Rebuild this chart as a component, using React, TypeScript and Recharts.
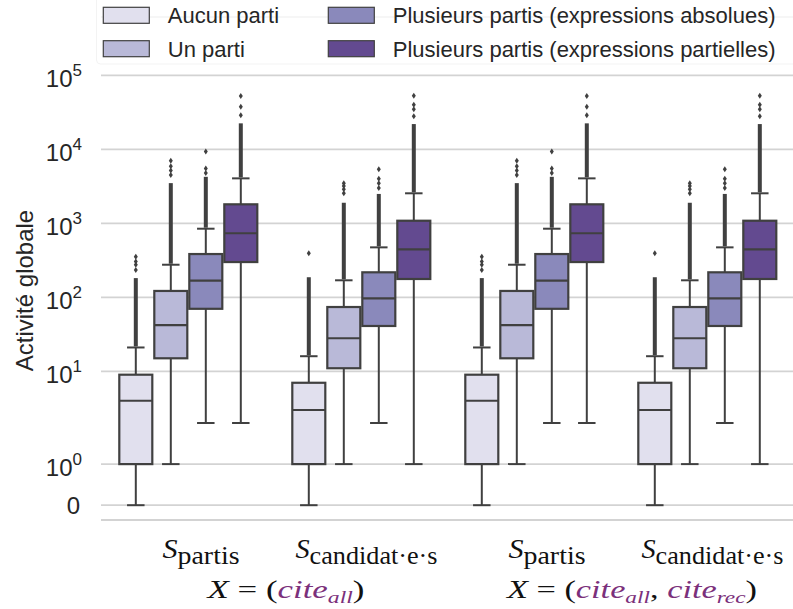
import React from 'react';
import { BarChart, Bar, XAxis, YAxis, CartesianGrid } from 'recharts';

const groups = ['partis_all', 'candidats_all', 'partis_allrec', 'candidats_allrec'];
const seriesNames = [
  'Aucun parti',
  'Un parti',
  'Plusieurs partis (expressions absolues)',
  'Plusieurs partis (expressions partielles)',
];
const seriesColors = ['#e1e0ee', '#b9b9d8', '#8a89bb', '#634a90'];

// box statistics, indexed [series][group]
const whiskerLow = [
  [0, 0, 0, 0],
  [1, 1, 1, 1],
  [2, 2, 2, 2],
  [2, 1, 2, 1],
];
const q1 = [
  [1, 1, 1, 1],
  [15, 11, 15, 11],
  [70, 41, 70, 41],
  [300, 177, 300, 177],
];
const median = [
  [4, 3, 4, 3],
  [42, 28, 42, 28],
  [168, 97, 168, 97],
  [735, 446, 735, 446],
];
const q3 = [
  [9, 7, 9, 7],
  [122, 74, 122, 74],
  [385, 218, 385, 218],
  [1810, 1086, 1810, 1086],
];
const whiskerHigh = [
  [21, 16, 21, 16],
  [276, 170, 276, 170],
  [847, 474, 847, 474],
  [4060, 2550, 4060, 2550],
];
// outliers: a dense run from the whisker up to this value, then single points
const denseFliersTop = [
  [182, 187, 182, 187],
  [3500, 1900, 3500, 1900],
  [4260, 2500, 4260, 2500],
  [22500, 22000, 22500, 22000],
];
const sparseFliers = [
  [[235, 275, 305, 355], [394], [235, 275, 305, 355], [394]],
  [[4500, 5200, 5900, 7000], [2550, 2900, 3200, 3500], [4500, 5200, 5900, 7000], [2550, 2900, 3200, 3500]],
  [[4800, 5500, 9400], [3000, 3500, 4000, 5400], [4800, 5500, 9400], [3000, 3500, 4000, 5400]],
  [[29000, 37700, 52600], [28000, 35000, 40000, 53000], [29000, 37700, 52600], [28000, 35000, 40000, 53000]],
];

const yTickValues = [0, 1, 10, 100, 1000, 10000, 100000];
const xSubscripts = ['partis', 'candidat·e·s', 'partis', 'candidat·e·s'];
const secondLineParts = [
  [['cite', 'all']],
  [['cite', 'all'], ['cite', 'rec']],
];

// symlog, linthresh 2, linscale 1, in decades
const LINTHRESH = 2;
const LINSCALE = 1 / (1 - 1 / 10);
const symlog = (v: number) =>
  v <= LINTHRESH ? (v * LINSCALE) / LINTHRESH : LINSCALE + Math.log10(v / LINTHRESH);

const data = groups.map((g, gi) => {
  const row: any = { group: g, gi };
  seriesNames.forEach((_, si) => {
    const top = Math.max(whiskerHigh[si][gi], denseFliersTop[si][gi], ...sparseFliers[si][gi]);
    row['s' + si] = [symlog(whiskerLow[si][gi]), symlog(top)];
  });
  return row;
});

const LINE = '#404040';
const TEXT = '#262626';
const PURPLE = '#7b307b';

function BoxShape(props: any) {
  const { x, y, width, height, payload, si } = props;
  const gi = payload.gi;
  const [tLo, tHi] = payload['s' + si];
  const py = (v: number) => y + (height * (tHi - symlog(v))) / (tHi - tLo);
  const cx = x + width / 2;
  const cap = width / 4;
  const boxTop = py(q3[si][gi]);
  const boxBot = py(q1[si][gi]);
  const wTop = py(whiskerHigh[si][gi]);
  const wBot = py(whiskerLow[si][gi]);
  const dTop = py(denseFliersTop[si][gi]);
  return (
    <g>
      <line x1={cx} x2={cx} y1={boxBot} y2={wBot} stroke={LINE} strokeWidth={2} />
      <line x1={cx} x2={cx} y1={boxTop} y2={wTop} stroke={LINE} strokeWidth={2} />
      <line x1={cx - cap} x2={cx + cap} y1={wBot} y2={wBot} stroke={LINE} strokeWidth={2} />
      <line x1={cx - cap} x2={cx + cap} y1={wTop} y2={wTop} stroke={LINE} strokeWidth={2} />
      <rect x={cx - 2} y={dTop} width={4} height={Math.max(0, wTop - dTop - 1)} fill={LINE} />
      {sparseFliers[si][gi].map((v, k) => {
        const fy = py(v);
        return (
          <polygon
            key={k}
            points={`${cx},${fy - 3} ${cx + 2},${fy} ${cx},${fy + 3} ${cx - 2},${fy}`}
            fill={LINE}
          />
        );
      })}
      <rect
        x={x + 1}
        y={boxTop}
        width={width - 2}
        height={boxBot - boxTop}
        fill={seriesColors[si]}
        stroke={LINE}
        strokeWidth={2.2}
      />
      <line x1={x + 1} x2={x + width - 1} y1={py(median[si][gi])} y2={py(median[si][gi])} stroke={LINE} strokeWidth={2.2} />
    </g>
  );
}

function YTick(props: any) {
  const { x, y, payload } = props;
  const idx = yTickValues.findIndex((v) => Math.abs(symlog(v) - payload.value) < 1e-6);
  const v = yTickValues[idx];
  if (v === 0) {
    return (
      <text x={x - 2} y={y + 8.5} textAnchor="end" fontSize={24} fill={TEXT} fontFamily="Liberation Sans, Arial">
        0
      </text>
    );
  }
  return (
    <text x={x} y={y + 12} textAnchor="end" fontSize={24} fill={TEXT} fontFamily="Liberation Sans, Arial">
      <tspan>10</tspan>
      <tspan dy={-11} fontSize={17}>{String(Math.round(Math.log10(v)))}</tspan>
    </text>
  );
}

function XTick(props: any) {
  const { x, y, payload } = props;
  const i = payload.index;
  const isPartis = i % 2 === 0;
  const pair = secondLineParts[Math.floor(i / 2)];
  return (
    <g fontFamily="Liberation Serif, Times New Roman, serif" fill="#111">
      <text
        x={x + (isPartis ? -25 : -65)}
        y={y + 38}
        textLength={isPartis ? 77 : 142}
        lengthAdjust="spacingAndGlyphs"
      >
        <tspan fontStyle="italic" fontSize={27}>S</tspan>
        <tspan fontSize={25} dy={5.5}>{xSubscripts[i]}</tspan>
      </text>
      {isPartis && (
        <text
          x={x + 98.5}
          y={y + 78}
          textAnchor="middle"
          fontSize={25}
          textLength={pair.length === 1 ? 157 : 250}
          lengthAdjust="spacingAndGlyphs"
        >
          <tspan fontStyle="italic">X</tspan>
          <tspan>{' = ('}</tspan>
          {pair.map((p, k) => (
            <React.Fragment key={k}>
              {k > 0 && <tspan dy={-5}>{', '}</tspan>}
              <tspan fontStyle="italic" fill={PURPLE}>{p[0]}</tspan>
              <tspan fontStyle="italic" fill={PURPLE} fontSize={17} dy={5}>{p[1]}</tspan>
            </React.Fragment>
          ))}
          <tspan dy={-5}>)</tspan>
        </text>
      )}
    </g>
  );
}

function LegendOverlay() {
  const cols = [103.3, 328.3];
  const rows = [7.3, 40.7];
  return (
    <svg width={793} height={80} style={{ position: 'absolute', left: 0, top: 0, pointerEvents: 'none' }}>
      <rect x={96.5} y={-6} width={703} height={70} rx={4} fill="#fff" fillOpacity={0.8} stroke="#f3f3f3" />
      {seriesNames.map((name, si) => {
        const cx = cols[Math.floor(si / 2)];
        const ry = rows[si % 2];
        return (
          <g key={name}>
            <rect x={cx} y={ry} width={46} height={16} fill={seriesColors[si]} stroke={LINE} strokeWidth={1.2} />
            <text x={cx + 64.5} y={ry + 16} fontSize={22} fill={TEXT} fontFamily="Liberation Sans, Arial">
              {name}
            </text>
          </g>
        );
      })}
    </svg>
  );
}

export default function App() {
  return (
    <div style={{ position: 'absolute', left: 0, top: 0, width: 793, height: 609, background: '#fff' }}>
      <BarChart
        width={793}
        height={609}
        data={data}
        margin={{ top: 17, right: 0, left: 0, bottom: 0 }}
        barCategoryGap="10%"
        barGap={0}
      >
        <CartesianGrid vertical={false} stroke="#d3d3d3" strokeWidth={1.8} />
        <XAxis
          dataKey="group"
          interval={0}
          axisLine={false}
          tickLine={false}
          tickSize={0}
          tickMargin={0}
          height={89}
          tick={<XTick />}
        />
        <YAxis
          type="number"
          domain={[-0.2, 6.6]}
          allowDataOverflow
          ticks={yTickValues.map(symlog)}
          width={101}
          axisLine={false}
          tickLine={false}
          tickSize={0}
          tickMargin={19}
          tick={<YTick />}
          label={({ viewBox }: any) => (
            <text
              x={24}
              y={viewBox.y + viewBox.height / 2 + 22}
              transform={`rotate(-90, 24, ${viewBox.y + viewBox.height / 2 + 22})`}
              textAnchor="middle"
              dominantBaseline="central"
              fontSize={24}
              fill={TEXT}
              fontFamily="Liberation Sans, Arial"
            >
              Activité globale
            </text>
          )}
        />
        {seriesNames.map((name, si) => (
          <Bar
            key={name}
            dataKey={`s${si}`}
            name={name}
            fill={seriesColors[si]}
            isAnimationActive={false}
            shape={(p: any) => <BoxShape {...p} si={si} />}
          />
        ))}
      </BarChart>
      <LegendOverlay />
    </div>
  );
}
